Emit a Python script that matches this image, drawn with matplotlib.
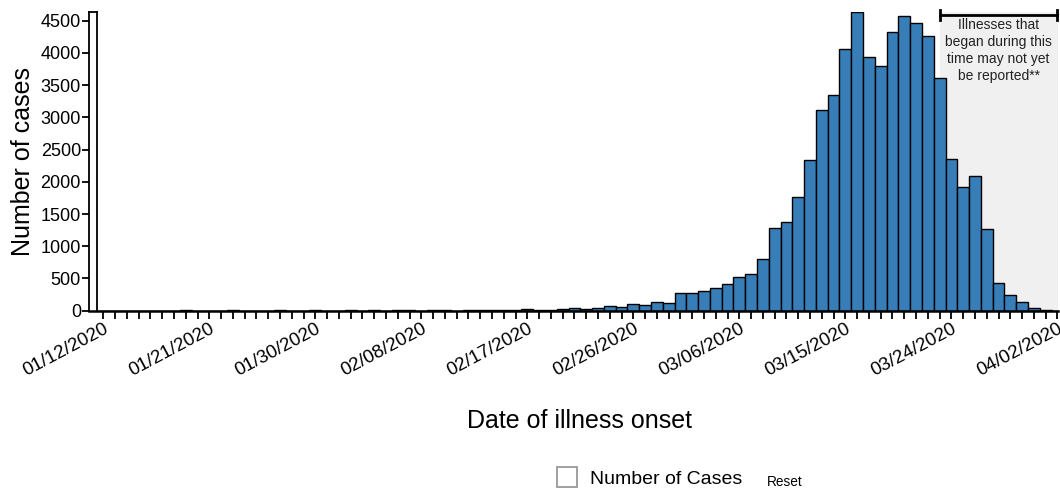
import matplotlib
matplotlib.use('Agg')
from matplotlib import pyplot as plt
import datetime as dt

plt.rcParams['font.family'] = ['Liberation Sans', 'DejaVu Sans']

# daily counts by date of illness onset, 01/12/2020 .. 04/02/2020
start = dt.date(2020, 1, 12)
cases = [0, 1, 0, 2, 1, 2, 1, 3, 2, 1,
         2, 3, 2, 1, 2, 3, 2, 1, 3, 2,
         1, 3, 2, 4, 2, 6, 3, 2, 4, 3,
         2, 5, 4, 3, 12, 5, 20, 18, 4, 20,
         36, 25, 36, 67, 50, 98, 83, 132, 114, 270,
         272, 313, 347, 412, 518, 567, 800, 1279, 1381, 1765,
         2339, 3110, 3348, 4062, 4641, 3942, 3793, 4330, 4574, 4460,
         4264, 3610, 2359, 1920, 2086, 1263, 430, 248, 140, 48,
         8, 0]
dates = [start + dt.timedelta(days=i) for i in range(len(cases))]
tick_labels = [d.strftime('%m/%d/%Y') for d in dates]
yticks = [0, 500, 1000, 1500, 2000, 2500, 3000, 3500, 4000, 4500]
note_lines = ['Illnesses that', 'began during this', 'time may not yet', 'be reported**']
lag_start = 71  # 03/23/2020

x = list(range(len(cases)))
xmin, xmax = -1.19, 81.04
ymax = 4640

fig = plt.figure(figsize=(10.6, 4.93), dpi=100)
ax = fig.add_axes([0.0842, 0.3698, 0.9138, 0.6065])

ax.axvspan(lag_start, xmax, ymin=0, ymax=1, color='#f0f0f0', zorder=0, lw=0)
ax.bar(x, cases, width=1.0, color='#377eb8', edgecolor='black', linewidth=1.0, zorder=2)

ax.set_xlim(xmin, xmax)
ax.set_ylim(0, ymax)

for s in ['top', 'right']:
    ax.spines[s].set_visible(False)
ax.spines['left'].set_linewidth(1.3)
ax.spines['bottom'].set_linewidth(1.8)

# inner edge of the axis box
ax.plot([-0.56, -0.56], [0, ymax], color='black', lw=1.3, zorder=3, clip_on=False)
ax.plot([xmin, -0.56], [ymax, ymax], color='black', lw=1.3, zorder=3, clip_on=False)

ax.set_yticks(yticks)
ax.set_yticklabels([str(v) for v in yticks], fontsize=13)
ax.tick_params(axis='y', direction='out', length=5, width=1.3, pad=1)

ax.set_xticks(x)
ax.set_xticklabels([tick_labels[i] if i % 9 == 0 else '' for i in x],
                   rotation=28, ha='right', va='top', rotation_mode='anchor', fontsize=13.5)
ax.tick_params(axis='x', direction='out', length=6, width=1.3, pad=1)

ax.set_ylabel('Number of cases', fontsize=18, labelpad=4)
ax.set_xlabel('Date of illness onset', fontsize=18)
ax.xaxis.set_label_coords(0.506, -0.33)

# reporting lag bracket and note
top_y = ymax - 50
ax.plot([lag_start, 81], [top_y, top_y], color='black', lw=2, clip_on=False, zorder=4)
for xe in [lag_start, 81]:
    ax.plot([xe, xe], [top_y - 80, top_y + 80], color='black', lw=2, clip_on=False, zorder=4)
ax.text((lag_start + 81) / 2, top_y - 55, '\n'.join(note_lines), ha='center', va='top',
        fontsize=10, linespacing=1.25, color='#222222', zorder=4)

# legend-like controls
fig.patches.append(plt.Rectangle((557 / 1060, 1 - 487 / 493), 20 / 1060, 20 / 493,
                                 transform=fig.transFigure, fill=False,
                                 edgecolor='#999999', lw=1.3))
fig.text(590 / 1060, 1 - 479 / 493, 'Number of Cases', fontsize=14, va='center')
fig.text(767 / 1060, 1 - 482 / 493, 'Reset', fontsize=9.8, va='center')

fig.savefig('out.png', dpi=100)
